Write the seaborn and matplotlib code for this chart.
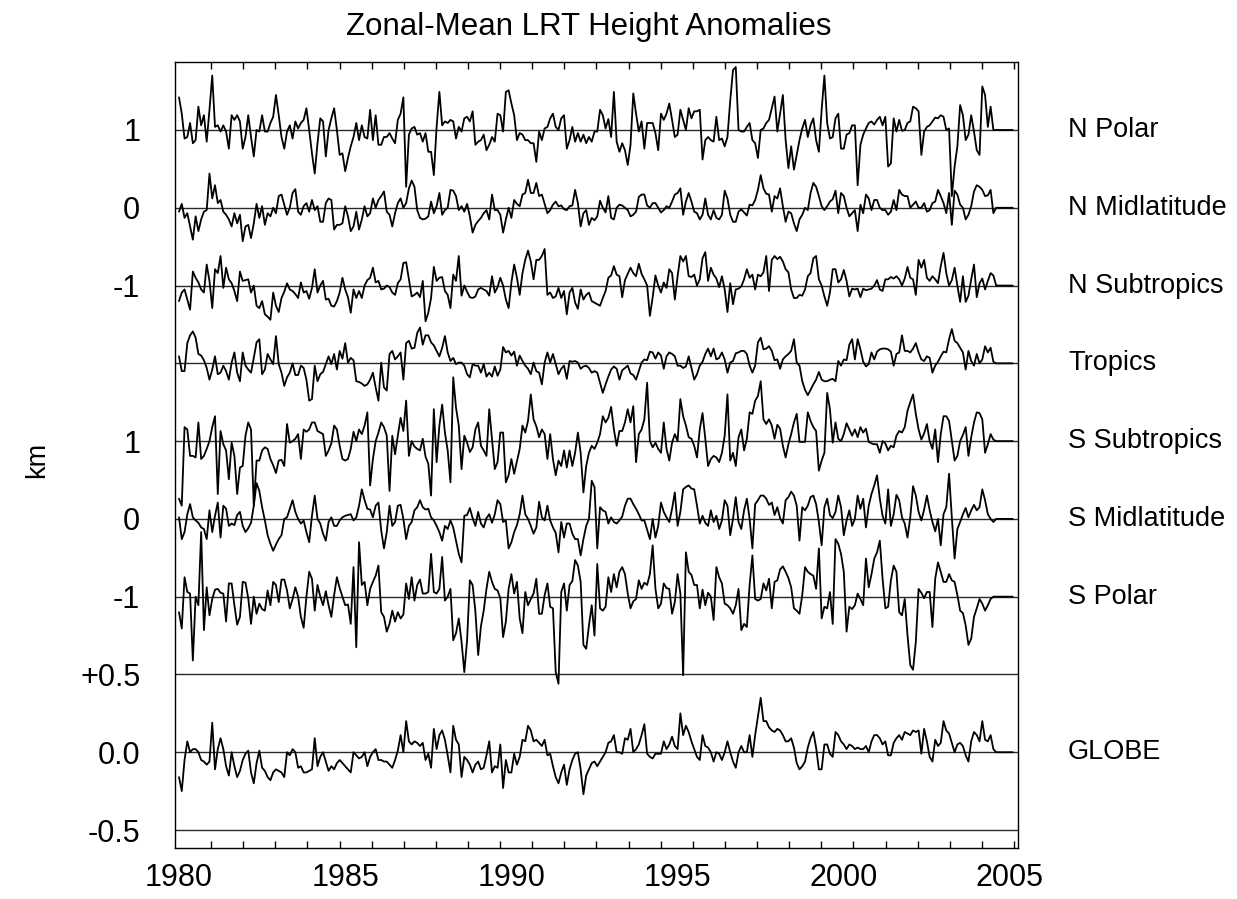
import numpy as np
import pandas as pd
import matplotlib
matplotlib.use("Agg")
import matplotlib.pyplot as plt
import matplotlib.transforms as mtransforms
import seaborn as sns

# ---------------------------------------------------------------------------
# Monthly zonal-mean lapse-rate tropopause height anomalies (km), Jan 1980 on
# ---------------------------------------------------------------------------
START_YEAR = 1980

regions = ["N Polar", "N Midlatitude", "N Subtropics", "Tropics",
           "S Subtropics", "S Midlatitude", "S Polar", "GLOBE"]

n_polar = [
    0.42, 0.21, -0.11, -0.09, 0.09, -0.17, -0.13, 0.30, 0.06, 0.19,
    -0.15, 0.26, 0.70, 0.04, 0.06, -0.02, 0.06, -0.02, -0.24, 0.19,
    0.13, 0.19, 0.11, -0.24, -0.09, 0.19, -0.09, -0.34, 0.00, -0.02,
    0.19, -0.02, -0.02, 0.09, 0.17, 0.45, 0.19, -0.09, -0.24, -0.02,
    0.06, -0.11, 0.11, 0.02, 0.09, 0.13, 0.28, 0.00, -0.30, -0.56,
    -0.17, 0.15, 0.11, -0.34, 0.00, 0.15, 0.28, 0.00, -0.32, -0.30,
    -0.53, -0.36, -0.21, -0.09, 0.09, -0.13, 0.06, -0.09, -0.11, 0.26,
    -0.13, 0.19, -0.19, -0.19, -0.09,
    -0.09, -0.04, -0.11, -0.17, 0.13, 0.21, 0.42, -0.73, -0.06, 0.02,
    0.04, -0.06, -0.04, -0.15, -0.04, -0.28, -0.28, -0.58, 0.04, 0.49,
    0.06, 0.11, 0.09, 0.13, 0.11, -0.11, 0.04, -0.02, 0.15, 0.17,
    0.11, 0.24, -0.19, -0.15, -0.13, -0.06, -0.26, -0.19, -0.09, -0.15,
    0.21, 0.19, -0.02, 0.49, 0.51, 0.34, 0.19, -0.13, -0.04, -0.06,
    -0.13, -0.13, -0.17, -0.17, -0.41, -0.02, -0.13, 0.02, 0.04, 0.15,
    0.21, 0.04, 0.00, 0.15, 0.19, -0.24, -0.13, 0.04, -0.15, -0.04,
    -0.15, -0.06, -0.17, -0.09, -0.15, -0.02,
    -0.02, 0.26, 0.19, 0.02, 0.14, -0.09, 0.49, -0.15, -0.28, -0.17,
    -0.26, -0.45, -0.19, 0.47, 0.21, -0.02, 0.11, -0.24, 0.09, 0.09,
    0.09, -0.04, -0.26, 0.21, 0.13, 0.21, 0.34, 0.13, -0.09, -0.06,
    0.26, 0.13, 0.00, 0.28, 0.15, 0.24, 0.24, 0.26, -0.38, -0.13,
    -0.09, -0.13, -0.15, 0.17, -0.13, -0.11, -0.21, -0.09, 0.38, 0.77,
    0.81, 0.00, -0.02, -0.02, 0.04, 0.09, -0.13, -0.17, -0.36, 0.00,
    0.02, 0.09, 0.13, 0.28, 0.43, -0.02, 0.21, 0.45, -0.13, -0.49,
    -0.21, -0.51, -0.32, -0.13, 0.02, 0.13,
    -0.09, 0.06, 0.15, -0.13, -0.28, 0.26, 0.70, 0.09, -0.11, -0.09,
    0.15, 0.21, -0.24, -0.24, -0.06, -0.04, 0.06, 0.06, -0.71, -0.19,
    -0.06, 0.02, 0.09, 0.11, 0.07, 0.13, 0.17, 0.06, 0.17, -0.47,
    -0.43, 0.15, -0.02, 0.13, -0.01, 0.00, 0.09, 0.11, 0.30, 0.28,
    0.24, -0.32, -0.02, 0.04, 0.06, 0.11, 0.16, 0.15, 0.19, 0.17,
    0.00, 0.02, -0.85, -0.47, -0.21, 0.32, 0.19, -0.13, -0.06, 0.19,
    -0.02, -0.26, -0.32, 0.56, 0.45, 0.04, 0.30, 0.00,
    0.0, 0.0, 0.0, 0.0, 0.0, 0.0, 0.0,
]

n_midlat = [
    -0.05, 0.05, -0.13, -0.07, -0.24, -0.41, -0.11, -0.30, -0.15, -0.05,
    -0.03, 0.44, 0.12, 0.29, 0.06, 0.10, -0.05, -0.09, -0.15, -0.24,
    -0.07, -0.20, -0.09, -0.43, -0.24, -0.22, -0.39, -0.20, 0.05, -0.13,
    0.02, -0.22, -0.07, -0.11, 0.00, -0.07, 0.15, 0.17, 0.04, -0.09,
    0.00, 0.19, 0.24, -0.05, -0.09, 0.02, 0.06, -0.05, 0.10, -0.03,
    0.02, -0.18, -0.18, 0.06, 0.12, 0.10, -0.28, -0.22, -0.22, -0.20,
    0.02, -0.11, -0.30, -0.24, -0.05, -0.28, -0.15, 0.02, -0.11, -0.07,
    0.12, 0.00, 0.10, 0.15, 0.21,
    -0.05, -0.09, -0.24, -0.07, 0.06, 0.12, 0.00, 0.06, 0.25, 0.35,
    0.27, -0.03, -0.13, -0.15, -0.14, -0.11, 0.08, -0.07, 0.02, 0.19,
    -0.09, -0.03, 0.00, 0.23, 0.22, 0.15, -0.03, 0.02, -0.05, 0.05,
    -0.11, -0.32, -0.22, -0.17, -0.13, -0.07, -0.03, -0.15, 0.17, -0.03,
    -0.03, -0.09, -0.32, -0.15, 0.00, -0.13, 0.10, 0.05, 0.02, 0.17,
    0.19, 0.36, 0.19, 0.19, 0.32, 0.15, 0.17, 0.05, -0.07, -0.03,
    0.04, 0.08, 0.02, 0.03, -0.02, -0.03, 0.02, 0.03, 0.23, 0.06,
    -0.24, -0.07, -0.03, -0.22, -0.13, -0.16,
    -0.11, 0.09, 0.00, -0.06, 0.15, -0.13, -0.15, 0.00, 0.04, 0.03,
    0.00, -0.03, -0.11, -0.09, -0.05, 0.14, 0.17, 0.17, 0.03, 0.00,
    0.06, 0.06, 0.00, -0.06, -0.03, 0.02, 0.00, 0.08, 0.17, 0.19,
    0.25, -0.09, 0.08, 0.19, 0.08, -0.05, -0.07, -0.15, -0.09, 0.12,
    -0.09, -0.15, -0.03, -0.13, -0.15, -0.09, 0.22, 0.12, -0.09, -0.18,
    -0.18, -0.05, -0.02, -0.06, -0.10, 0.04, 0.03, 0.10, 0.23, 0.42,
    0.25, 0.18, 0.17, -0.05, 0.15, 0.12, 0.25, 0.02, -0.18, -0.05,
    -0.07, -0.20, -0.30, -0.15, -0.09, 0.00,
    -0.03, 0.19, 0.32, 0.27, 0.15, 0.02, -0.03, 0.02, 0.08, 0.11,
    0.22, -0.07, 0.19, 0.15, 0.00, -0.11, -0.07, -0.03, -0.30, 0.04,
    -0.07, 0.17, 0.12, -0.03, 0.10, 0.10, 0.00, -0.03, -0.03, -0.09,
    -0.05, 0.10, -0.03, 0.23, 0.17, 0.15, 0.15, 0.00, 0.04, 0.08,
    0.00, 0.00, 0.06, -0.05, -0.03, 0.06, 0.08, 0.23, 0.15, 0.06,
    -0.07, 0.19, -0.22, 0.22, 0.17, 0.04, 0.00, -0.15, -0.09, 0.02,
    0.21, 0.29, 0.27, 0.23, 0.15, 0.16, 0.23, -0.07,
    0.0, 0.0, 0.0, 0.0, 0.0, 0.0, 0.0,
]

n_subtrop = [
    -0.20, -0.09, -0.05, -0.18, -0.31, 0.18, 0.10, 0.04, -0.05, -0.09,
    0.27, 0.06, -0.29, 0.21, 0.16, 0.38, -0.03, 0.23, 0.08, 0.03,
    -0.07, -0.20, 0.18, 0.06, 0.07, 0.08, -0.09, 0.00, -0.26, -0.29,
    -0.20, -0.37, -0.40, -0.44, -0.09, -0.26, -0.34, -0.16, -0.08, 0.03,
    -0.05, -0.07, -0.11, -0.16, 0.04, -0.09, -0.07, -0.17, -0.03, 0.21,
    -0.09, 0.00, 0.06, -0.18, -0.17, -0.26, -0.27, -0.20, -0.09, 0.10,
    -0.05, -0.15, -0.35, -0.05, -0.16, -0.07, -0.16, 0.00, 0.07, 0.10,
    0.23, 0.04, 0.06, -0.05, -0.04,
    0.00, -0.02, -0.09, -0.12, 0.03, 0.08, 0.29, 0.30, 0.08, -0.14,
    -0.12, -0.09, -0.15, 0.06, -0.46, -0.35, -0.16, 0.24, 0.06, 0.10,
    0.11, -0.07, -0.12, -0.29, 0.14, 0.06, 0.38, -0.13, 0.00, -0.08,
    -0.15, -0.16, -0.14, -0.05, -0.03, -0.05, -0.07, -0.13, 0.12, -0.09,
    -0.02, 0.10, 0.00, -0.18, -0.29, 0.04, 0.27, 0.10, -0.12, 0.16,
    0.33, 0.45, 0.31, 0.08, 0.33, 0.33, 0.38, 0.47, -0.12, -0.09,
    -0.16, -0.14, -0.03, -0.16, -0.07, -0.37, -0.09, -0.03, -0.22, -0.30,
    -0.05, -0.18, -0.12, -0.09, -0.20, -0.22,
    -0.24, -0.26, -0.16, -0.07, 0.10, 0.13, 0.25, 0.14, 0.12, -0.15,
    0.07, 0.15, 0.23, 0.16, 0.12, 0.28, 0.15, 0.08, 0.00, -0.39,
    -0.15, 0.13, 0.00, -0.09, 0.04, -0.03, 0.21, 0.16, -0.18, 0.12,
    0.38, 0.31, 0.38, 0.12, 0.11, 0.14, 0.00, 0.08, 0.35, 0.43,
    0.06, 0.23, 0.14, 0.09, -0.02, 0.12, -0.05, -0.34, 0.03, -0.24,
    -0.05, -0.04, -0.01, 0.08, 0.21, 0.10, 0.14, -0.05, 0.14, 0.12,
    0.17, 0.38, -0.07, 0.33, 0.38, 0.34, 0.37, 0.31, 0.21, 0.17,
    -0.05, -0.16, -0.16, -0.12, -0.13, -0.05,
    0.12, 0.16, 0.35, 0.38, 0.08, 0.00, -0.14, -0.26, -0.09, 0.21,
    0.21, 0.04, 0.08, 0.20, 0.06, -0.14, -0.04, -0.05, -0.04, -0.15,
    -0.04, -0.06, -0.05, -0.04, 0.00, 0.07, -0.05, -0.07, 0.08, 0.08,
    0.11, 0.09, 0.12, 0.08, 0.00, 0.09, 0.24, 0.10, 0.08, -0.12,
    0.33, 0.23, 0.33, 0.10, 0.06, 0.12, 0.08, 0.03, 0.25, 0.42,
    0.16, 0.00, 0.07, 0.23, 0.00, -0.21, 0.12, -0.21, -0.13, 0.08,
    0.27, -0.15, 0.03, 0.09, -0.05, 0.06, 0.16, 0.13,
    0.0, 0.0, 0.0, 0.0, 0.0, 0.0, 0.0,
]

tropics = [
    0.09, -0.10, -0.10, 0.26, 0.36, 0.41, 0.33, 0.12, 0.10, 0.04,
    -0.06, -0.21, -0.08, 0.09, -0.14, -0.12, -0.03, -0.10, -0.21, 0.01,
    0.14, -0.12, -0.23, 0.14, -0.03, -0.08, -0.12, 0.07, 0.27, 0.31,
    -0.14, -0.08, 0.12, 0.05, -0.01, 0.35, -0.01, -0.12, -0.29, -0.18,
    -0.12, 0.00, -0.15, -0.15, -0.03, -0.06, -0.21, -0.48, -0.46, -0.03,
    -0.23, -0.14, -0.11, -0.01, 0.09, -0.01, 0.12, -0.08, 0.16, 0.06,
    0.26, 0.01, 0.07, 0.04, -0.23, -0.24, -0.26, -0.29, -0.27, -0.21,
    -0.12, -0.31, -0.48, 0.01, -0.31,
    -0.35, 0.12, 0.16, 0.05, 0.09, 0.14, -0.21, 0.26, 0.29, 0.19,
    0.20, 0.39, 0.46, 0.24, 0.36, 0.36, 0.27, 0.23, 0.16, 0.09,
    0.20, 0.35, 0.14, 0.03, 0.07, -0.01, 0.01, 0.01, -0.03, -0.14,
    -0.18, -0.01, -0.03, -0.03, -0.12, -0.01, -0.17, -0.12, -0.17, -0.04,
    -0.16, -0.08, 0.21, 0.14, 0.16, 0.10, 0.15, -0.03, 0.10, 0.03,
    -0.03, -0.07, -0.14, 0.01, -0.10, -0.12, -0.27, 0.01, 0.14, 0.01,
    0.12, -0.01, -0.14, -0.07, -0.03, -0.20, 0.03, 0.02, 0.03, 0.01,
    -0.07, -0.04, -0.03, -0.06, -0.12, -0.10,
    -0.12, -0.25, -0.38, -0.27, -0.17, -0.08, -0.04, -0.07, -0.21, -0.09,
    -0.06, -0.03, -0.13, -0.15, -0.21, -0.10, 0.01, 0.05, 0.04, 0.15,
    0.14, 0.06, 0.14, 0.10, -0.07, 0.09, 0.14, 0.12, 0.09, -0.03,
    -0.03, -0.06, -0.04, 0.09, -0.06, -0.21, -0.14, -0.03, 0.02, 0.12,
    0.19, 0.09, 0.19, 0.05, 0.07, 0.14, 0.05, -0.12, 0.01, 0.03,
    0.13, 0.14, 0.16, 0.16, 0.12, -0.03, -0.12, -0.03, 0.27, 0.33,
    0.18, 0.19, 0.22, 0.16, 0.04, 0.05, -0.07, 0.05, 0.09, 0.12,
    0.16, 0.31, 0.01, -0.03, -0.23, -0.34,
    -0.41, -0.34, -0.27, -0.21, -0.11, -0.21, -0.23, -0.23, -0.21, -0.20,
    -0.23, 0.03, -0.03, 0.05, 0.04, 0.24, 0.31, 0.05, 0.31, 0.18,
    0.02, -0.04, -0.01, 0.14, 0.05, 0.15, 0.18, 0.19, 0.19, 0.18,
    0.15, -0.03, 0.12, 0.14, 0.36, 0.16, 0.16, 0.14, 0.19, 0.26,
    0.14, 0.05, 0.03, 0.09, 0.07, -0.12, -0.03, 0.02, 0.09, 0.15,
    0.14, 0.31, 0.44, 0.29, 0.26, 0.20, 0.14, -0.08, 0.16, 0.03,
    -0.03, 0.12, 0.00, 0.05, 0.22, 0.14, 0.20, 0.02,
    0.0, 0.0, 0.0, 0.0, 0.0, 0.0, 0.0,
]

s_subtrop = [
    -0.74, -0.83, 0.18, 0.15, -0.19, -0.19, -0.21, 0.24, -0.23, -0.19,
    -0.10, 0.00, 0.18, 0.32, -0.68, 0.13, -0.04, -0.12, -0.49, -0.02,
    -0.19, -0.68, -0.34, -0.32, 0.07, 0.24, 0.15, -0.83, -0.25, -0.25,
    -0.12, -0.08, -0.10, -0.23, -0.31, -0.41, -0.25, -0.24, -0.32, 0.22,
    -0.02, 0.00, 0.03, 0.09, -0.23, 0.15, 0.12, 0.15, 0.24, 0.24,
    0.13, 0.11, 0.09, -0.19, -0.12, -0.03, 0.20, 0.15, -0.06, -0.23,
    -0.25, -0.23, -0.10, 0.12, 0.00, 0.15, 0.09, 0.20, 0.37, -0.57,
    -0.23, 0.00, 0.11, 0.24, 0.18,
    0.07, -0.64, 0.07, -0.17, 0.07, 0.30, 0.13, 0.52, -0.19, 0.00,
    -0.07, -0.10, -0.12, 0.03, -0.20, -0.29, -0.70, 0.41, -0.27, 0.20,
    0.47, 0.11, -0.12, -0.53, 0.82, 0.43, 0.20, -0.36, 0.07, -0.02,
    -0.14, -0.08, 0.15, 0.24, -0.06, -0.12, -0.19, 0.41, 0.03, -0.36,
    -0.27, 0.11, 0.11, -0.53, -0.44, -0.23, -0.42, -0.26, -0.10, 0.20,
    0.11, 0.26, 0.60, 0.28, 0.19, 0.05, 0.15, 0.09, -0.23, 0.09,
    -0.23, -0.44, -0.25, -0.32, -0.12, -0.34, -0.12, -0.32, -0.15, 0.11,
    -0.15, -0.66, -0.32, -0.15, -0.06, -0.10,
    -0.02, 0.09, 0.32, 0.24, 0.30, 0.44, 0.15, -0.06, 0.13, 0.13,
    0.24, 0.41, 0.24, 0.45, -0.27, 0.09, 0.15, 0.28, 0.75, 0.00,
    -0.08, -0.02, -0.10, -0.15, 0.24, -0.10, -0.25, -0.02, 0.09, 0.00,
    0.54, 0.32, 0.20, 0.05, 0.03, -0.06, -0.21, 0.15, 0.36, 0.03,
    -0.32, -0.23, -0.19, -0.21, -0.27, -0.15, 0.07, 0.60, -0.25, -0.15,
    -0.32, 0.05, 0.15, -0.12, 0.03, 0.37, 0.35, 0.52, 0.58, 0.77,
    0.28, 0.22, 0.28, 0.20, 0.03, 0.21, 0.16, -0.06, -0.21, -0.04,
    0.09, 0.24, 0.35, -0.01, -0.01, -0.01,
    0.37, 0.26, 0.18, 0.13, -0.38, -0.25, -0.15, 0.62, 0.41, -0.02,
    0.24, 0.03, 0.00, 0.09, 0.23, 0.15, 0.07, 0.15, 0.05, 0.18,
    0.11, 0.16, -0.01, -0.03, -0.04, -0.04, -0.15, 0.00, -0.03, -0.12,
    -0.06, -0.08, 0.07, 0.13, 0.11, 0.18, 0.39, 0.50, 0.60, 0.35,
    0.15, 0.02, 0.10, 0.22, 0.00, -0.10, 0.15, -0.27, 0.09, 0.32,
    0.32, 0.26, 0.00, -0.25, -0.19, 0.00, 0.08, 0.18, -0.19, 0.05,
    0.24, 0.37, 0.36, 0.28, -0.15, -0.04, 0.09, 0.02,
    0.0, 0.0, 0.0, 0.0, 0.0, 0.0, 0.0,
]

s_midlat = [
    0.02, -0.26, -0.17, 0.06, 0.19, 0.02, -0.02, -0.05, -0.11, -0.13,
    -0.26, 0.11, -0.17, 0.04, 0.21, -0.24, 0.17, 0.13, -0.09, -0.06,
    -0.08, 0.05, 0.09, -0.09, -0.17, -0.12, -0.05, 0.17, 0.46, 0.36,
    0.15, -0.02, -0.21, -0.32, -0.41, -0.33, -0.26, -0.21, 0.00, 0.02,
    0.13, 0.24, 0.09, 0.00, -0.06, -0.02, -0.17, -0.30, 0.04, 0.30,
    0.00, -0.06, -0.19, -0.28, -0.04, 0.02, -0.09, -0.09, -0.02, 0.02,
    0.04, 0.05, 0.06, -0.02, 0.02, 0.17, 0.38, 0.24, 0.13, 0.12,
    0.02, 0.17, 0.21, -0.15, -0.38,
    -0.17, 0.17, -0.09, -0.04, 0.17, 0.18, 0.00, -0.26, -0.09, -0.04,
    0.11, 0.15, 0.24, 0.15, 0.12, 0.13, 0.02, -0.02, -0.09, -0.17,
    -0.28, -0.09, -0.13, -0.02, -0.11, -0.28, -0.45, -0.56, 0.04, 0.05,
    0.14, 0.01, -0.09, 0.09, -0.06, -0.11, 0.01, 0.06, -0.05, 0.06,
    0.24, 0.19, -0.04, -0.02, -0.38, -0.30, -0.17, -0.08, 0.06, 0.30,
    0.06, 0.00, -0.09, -0.19, -0.11, 0.22, 0.02, -0.02, 0.17, -0.02,
    -0.11, -0.18, -0.43, -0.04, -0.24, -0.06, -0.06, -0.19, -0.26, -0.26,
    -0.47, -0.26, -0.09, 0.00, 0.49, 0.41,
    -0.38, 0.15, 0.11, 0.09, -0.06, 0.02, -0.04, -0.06, -0.02, 0.03,
    0.17, 0.26, 0.26, 0.19, 0.13, 0.06, -0.02, -0.02, -0.14, -0.26,
    0.00, -0.24, -0.09, 0.21, 0.09, 0.02, -0.04, 0.13, 0.34, -0.09,
    0.09, 0.38, 0.41, 0.43, 0.39, 0.38, 0.17, -0.06, 0.04, -0.05,
    -0.09, 0.11, -0.04, 0.04, -0.13, -0.02, 0.24, 0.17, -0.21, 0.00,
    0.28, -0.04, -0.13, 0.11, 0.26, 0.00, -0.38, 0.19, 0.24, 0.30,
    0.30, 0.26, 0.18, 0.21, 0.05, 0.15, 0.01, -0.06, 0.24, 0.28,
    0.35, 0.30, 0.17, -0.28, 0.15, 0.11,
    0.17, 0.28, 0.30, 0.19, -0.04, -0.34, 0.15, 0.26, 0.05, 0.01,
    0.09, 0.30, 0.15, -0.21, -0.02, 0.11, -0.09, 0.00, 0.30, 0.13,
    0.26, -0.11, 0.17, 0.32, 0.43, 0.56, 0.26, 0.04, -0.06, 0.38,
    -0.09, 0.06, 0.31, 0.24, 0.02, -0.06, -0.24, 0.02, 0.42, 0.30,
    0.09, -0.02, 0.12, 0.30, 0.11, -0.04, -0.16, 0.00, -0.34, 0.06,
    0.15, 0.58, 0.02, -0.51, -0.13, -0.04, 0.06, 0.14, 0.02, 0.11,
    0.18, 0.11, 0.15, 0.38, 0.24, 0.06, 0.00, -0.04,
    0.0, 0.0, 0.0, 0.0, 0.0, 0.0, 0.0,
]

s_polar = [
    -0.20, -0.41, 0.25, 0.06, 0.04, -0.82, 0.00, -0.11, 0.83, -0.43,
    0.12, -0.24, -0.03, 0.09, 0.10, 0.05, 0.04, -0.32, 0.17, 0.17,
    -0.11, -0.36, -0.26, 0.19, 0.18, -0.02, -0.35, 0.00, -0.22, -0.09,
    -0.16, -0.18, 0.08, -0.11, 0.19, 0.15, -0.07, 0.22, 0.22, 0.08,
    -0.15, -0.03, 0.12, 0.00, -0.26, -0.40, 0.00, 0.32, 0.23, -0.18,
    0.15, 0.00, -0.11, 0.07, -0.11, -0.26, 0.02, 0.25, 0.11, 0.00,
    -0.11, -0.10, -0.35, 0.38, -0.65, 0.70, 0.15, 0.19, -0.11, 0.10,
    0.19, 0.27, 0.40, -0.20, -0.26,
    -0.45, -0.35, -0.18, -0.32, -0.20, -0.28, -0.23, 0.17, -0.03, 0.25,
    -0.05, 0.15, 0.22, 0.04, 0.04, 0.06, 0.55, 0.06, 0.04, 0.10,
    0.51, -0.05, 0.00, 0.10, -0.56, -0.47, -0.28, -0.58, -0.97, -0.56,
    0.21, 0.15, -0.19, -0.75, -0.38, -0.18, 0.10, 0.32, 0.19, 0.10,
    0.08, -0.02, -0.52, -0.32, 0.10, 0.29, 0.04, 0.19, -0.28, -0.47,
    0.06, -0.11, -0.03, 0.04, 0.23, -0.22, -0.22, 0.02, 0.17, -0.13,
    -0.15, -0.97, -1.12, 0.06, 0.17, -0.18, 0.15, 0.20, 0.47, 0.40,
    0.19, -0.62, -0.67, -0.37, -0.11, -0.50,
    0.42, -0.15, -0.18, -0.13, 0.25, 0.06, 0.29, 0.12, 0.32, 0.38,
    0.29, 0.04, -0.15, -0.06, -0.03, 0.21, 0.10, 0.18, 0.15, 0.29,
    0.66, 0.10, -0.15, -0.09, 0.17, 0.11, 0.10, -0.22, -0.07, 0.29,
    0.04, -1.01, 0.57, 0.32, 0.28, 0.15, 0.15, -0.15, 0.09, -0.11,
    0.05, 0.00, -0.30, 0.38, 0.25, 0.17, -0.09, -0.11, -0.15, -0.22,
    -0.11, 0.10, -0.43, -0.35, -0.39, 0.15, 0.53, -0.03, -0.05, -0.03,
    0.17, 0.08, 0.23, -0.15, 0.19, 0.21, 0.35, 0.39, 0.32, 0.24,
    0.12, -0.15, -0.18, -0.22, 0.02, 0.38,
    0.32, 0.29, 0.27, 0.10, 0.62, -0.28, -0.13, -0.15, 0.06, -0.35,
    0.74, 0.68, 0.55, 0.32, -0.45, -0.13, -0.16, -0.11, 0.04, -0.03,
    -0.11, 0.49, 0.12, 0.29, 0.49, 0.57, 0.72, 0.23, -0.15, -0.13,
    0.21, 0.40, 0.32, -0.20, -0.24, -0.03, -0.50, -0.88, -0.94, -0.58,
    0.10, 0.05, -0.02, 0.06, 0.06, -0.39, 0.23, 0.44, 0.32, 0.19,
    0.19, 0.29, 0.21, 0.19, 0.02, -0.18, -0.21, -0.37, -0.62, -0.54,
    -0.26, -0.15, -0.03, -0.09, -0.18, -0.11, -0.03, 0.00,
    0.0, 0.0, 0.0, 0.0, 0.0, 0.0, 0.0,
]

globe = [
    -0.16, -0.25, -0.05, 0.07, 0.00, 0.02, 0.02, 0.00, -0.05, -0.06,
    -0.08, -0.06, 0.19, -0.11, 0.02, 0.09, 0.02, -0.09, -0.15, 0.00,
    -0.09, -0.16, -0.12, -0.05, -0.01, 0.01, -0.13, -0.20, -0.07, 0.01,
    -0.10, -0.12, -0.16, -0.18, -0.13, -0.11, -0.12, -0.13, -0.16, 0.00,
    -0.02, 0.02, 0.00, -0.10, -0.09, -0.13, -0.13, -0.12, -0.11, 0.09,
    -0.09, -0.03, 0.00, -0.06, -0.12, -0.09, -0.11, -0.07, -0.05, -0.07,
    -0.09, -0.11, -0.13, 0.00, -0.02, -0.04, -0.03, 0.00, -0.09, -0.03,
    0.00, 0.02, -0.05, -0.05, -0.06,
    -0.06, -0.08, -0.10, -0.05, 0.01, 0.11, 0.00, 0.20, 0.07, 0.05,
    0.07, 0.06, 0.04, 0.06, -0.05, -0.01, -0.10, 0.15, 0.02, 0.11,
    0.14, 0.08, -0.02, -0.13, 0.17, 0.08, 0.05, -0.16, -0.03, -0.05,
    -0.08, -0.13, -0.08, -0.06, -0.11, -0.10, -0.02, 0.07, -0.13, -0.09,
    -0.10, 0.05, -0.23, -0.05, -0.13, -0.13, -0.01, -0.08, -0.03, 0.08,
    0.07, 0.17, 0.14, 0.07, 0.08, 0.06, 0.04, 0.08, -0.02, -0.01,
    -0.09, -0.16, -0.20, -0.13, -0.08, -0.21, -0.11, -0.05, -0.01, 0.00,
    -0.11, -0.27, -0.15, -0.11, -0.07, -0.06,
    -0.09, -0.06, -0.03, 0.00, 0.06, 0.07, 0.11, 0.00, 0.00, -0.01,
    0.09, 0.08, 0.15, 0.00, 0.02, 0.05, 0.11, 0.18, -0.01, -0.03,
    -0.04, -0.01, -0.01, -0.01, 0.07, 0.02, 0.05, 0.10, 0.04, 0.02,
    0.25, 0.11, 0.17, 0.13, 0.07, 0.02, -0.03, -0.05, 0.11, 0.04,
    0.03, 0.00, -0.06, 0.00, -0.01, -0.05, 0.00, 0.07, 0.00, -0.06,
    -0.10, 0.00, 0.04, 0.00, 0.00, 0.11, -0.03, 0.11, 0.23, 0.35,
    0.20, 0.20, 0.16, 0.14, 0.13, 0.15, 0.14, 0.11, 0.07, 0.07,
    0.09, 0.03, -0.07, -0.11, -0.09, -0.06,
    0.03, 0.09, 0.13, 0.03, -0.11, -0.11, 0.05, 0.05, -0.01, -0.03,
    0.13, 0.11, 0.07, 0.05, 0.02, 0.05, 0.04, 0.02, 0.03, 0.02,
    0.02, 0.04, 0.00, 0.07, 0.11, 0.11, 0.09, 0.05, 0.07, -0.02,
    -0.02, 0.06, 0.09, 0.11, 0.08, 0.13, 0.12, 0.11, 0.14, 0.13,
    0.14, -0.01, 0.15, 0.07, -0.03, -0.06, 0.08, 0.04, 0.06, 0.20,
    0.14, 0.12, 0.06, 0.00, 0.05, 0.06, 0.04, -0.02, -0.06, 0.07,
    0.13, 0.11, 0.07, 0.20, 0.08, 0.07, 0.11, 0.02,
    0.0, 0.0, 0.0, 0.0, 0.0, 0.0, 0.0,
]

series = [n_polar, n_midlat, n_subtrop, tropics,
          s_subtrop, s_midlat, s_polar, globe]

# stacking: baseline of each panel row and vertical stretch (GLOBE doubled)
baseline = {"N Polar": 8, "N Midlatitude": 7, "N Subtropics": 6, "Tropics": 5,
            "S Subtropics": 4, "S Midlatitude": 3, "S Polar": 2, "GLOBE": 0}
stretch = {r: 1.0 for r in regions}
stretch["GLOBE"] = 2.0

frames = []
for name, vals in zip(regions, series):
    vals = np.asarray(vals, dtype=float)
    frames.append(pd.DataFrame({
        "year": START_YEAR + np.arange(len(vals)) / 12.0,
        "anomaly": vals,
        "region": name,
        "ypos": baseline[name] + stretch[name] * vals,
    }))
df = pd.concat(frames, ignore_index=True)

# ---------------------------------------------------------------------------
sns.set_theme(style="ticks")
plt.rcParams["font.family"] = ["Liberation Sans", "DejaVu Sans"]

W, H = 1237, 899
fig = plt.figure(figsize=(W / 100, H / 100), dpi=100)
ax = fig.add_axes([175 / W, 1 - 848 / H, (1018 - 175) / W, (848 - 62) / H])

# reference lines for every row plus the GLOBE +/-0.5 km guides
for yv in [8, 7, 6, 5, 4, 3, 2, 1, 0, -1]:
    ax.axhline(yv, color="#2a2a2a", lw=1.0, zorder=1)

sns.lineplot(data=df, x="year", y="ypos", units="region", estimator=None,
             color="black", lw=1.3, sort=False, legend=False, ax=ax, zorder=3)

px_per_year = 33.24
ax.set_xlim(START_YEAR - 4 / px_per_year, START_YEAR + (1018 - 179) / px_per_year)
ax.set_ylim(-1 - 18 / 77.78, 8 + 68 / 77.78)

ax.set_xticks([1980, 1985, 1990, 1995, 2000, 2005])
ax.set_xticklabels(["1980", "1985", "1990", "1995", "2000", "2005"])
ax.set_xticks(np.linspace(1980, 2005.12, 27), minor=True)
ax.tick_params(axis="x", which="major", length=0, pad=11, labelsize=22,
               colors="black")
ax.tick_params(axis="x", which="minor", direction="in", length=5, width=1.0,
               top=True, bottom=True, colors="black")

ax.set_yticks([8, 7, 6, 4, 3, 2, 1, 0, -1])
ax.set_yticklabels(["1", "0", "-1", "1", "0", "-1", "+0.5", "0.0", "-0.5"])
ax.tick_params(axis="y", length=0, pad=25, labelsize=22, colors="black")

ax.set_xlabel("")
ax.set_ylabel("")
for sp in ax.spines.values():
    sp.set_visible(True)
    sp.set_color("black")
    sp.set_linewidth(1.0)

# row names to the right of the frame
trans = mtransforms.blended_transform_factory(ax.transAxes, ax.transData)
for name in regions:
    ax.text(1 + 50 / 843, baseline[name], name, transform=trans,
            ha="left", va="center", fontsize=19.5, color="black")

fig.text(589 / W, 1 - 27 / H, "Zonal-Mean LRT Height Anomalies",
         ha="center", va="center", fontsize=22.5, color="black")
fig.text(37 / W, 1 - 460 / H, "km", rotation=90, ha="center", va="center",
         fontsize=19.5, color="black")

fig.savefig("out.png", dpi=100, facecolor="white")
